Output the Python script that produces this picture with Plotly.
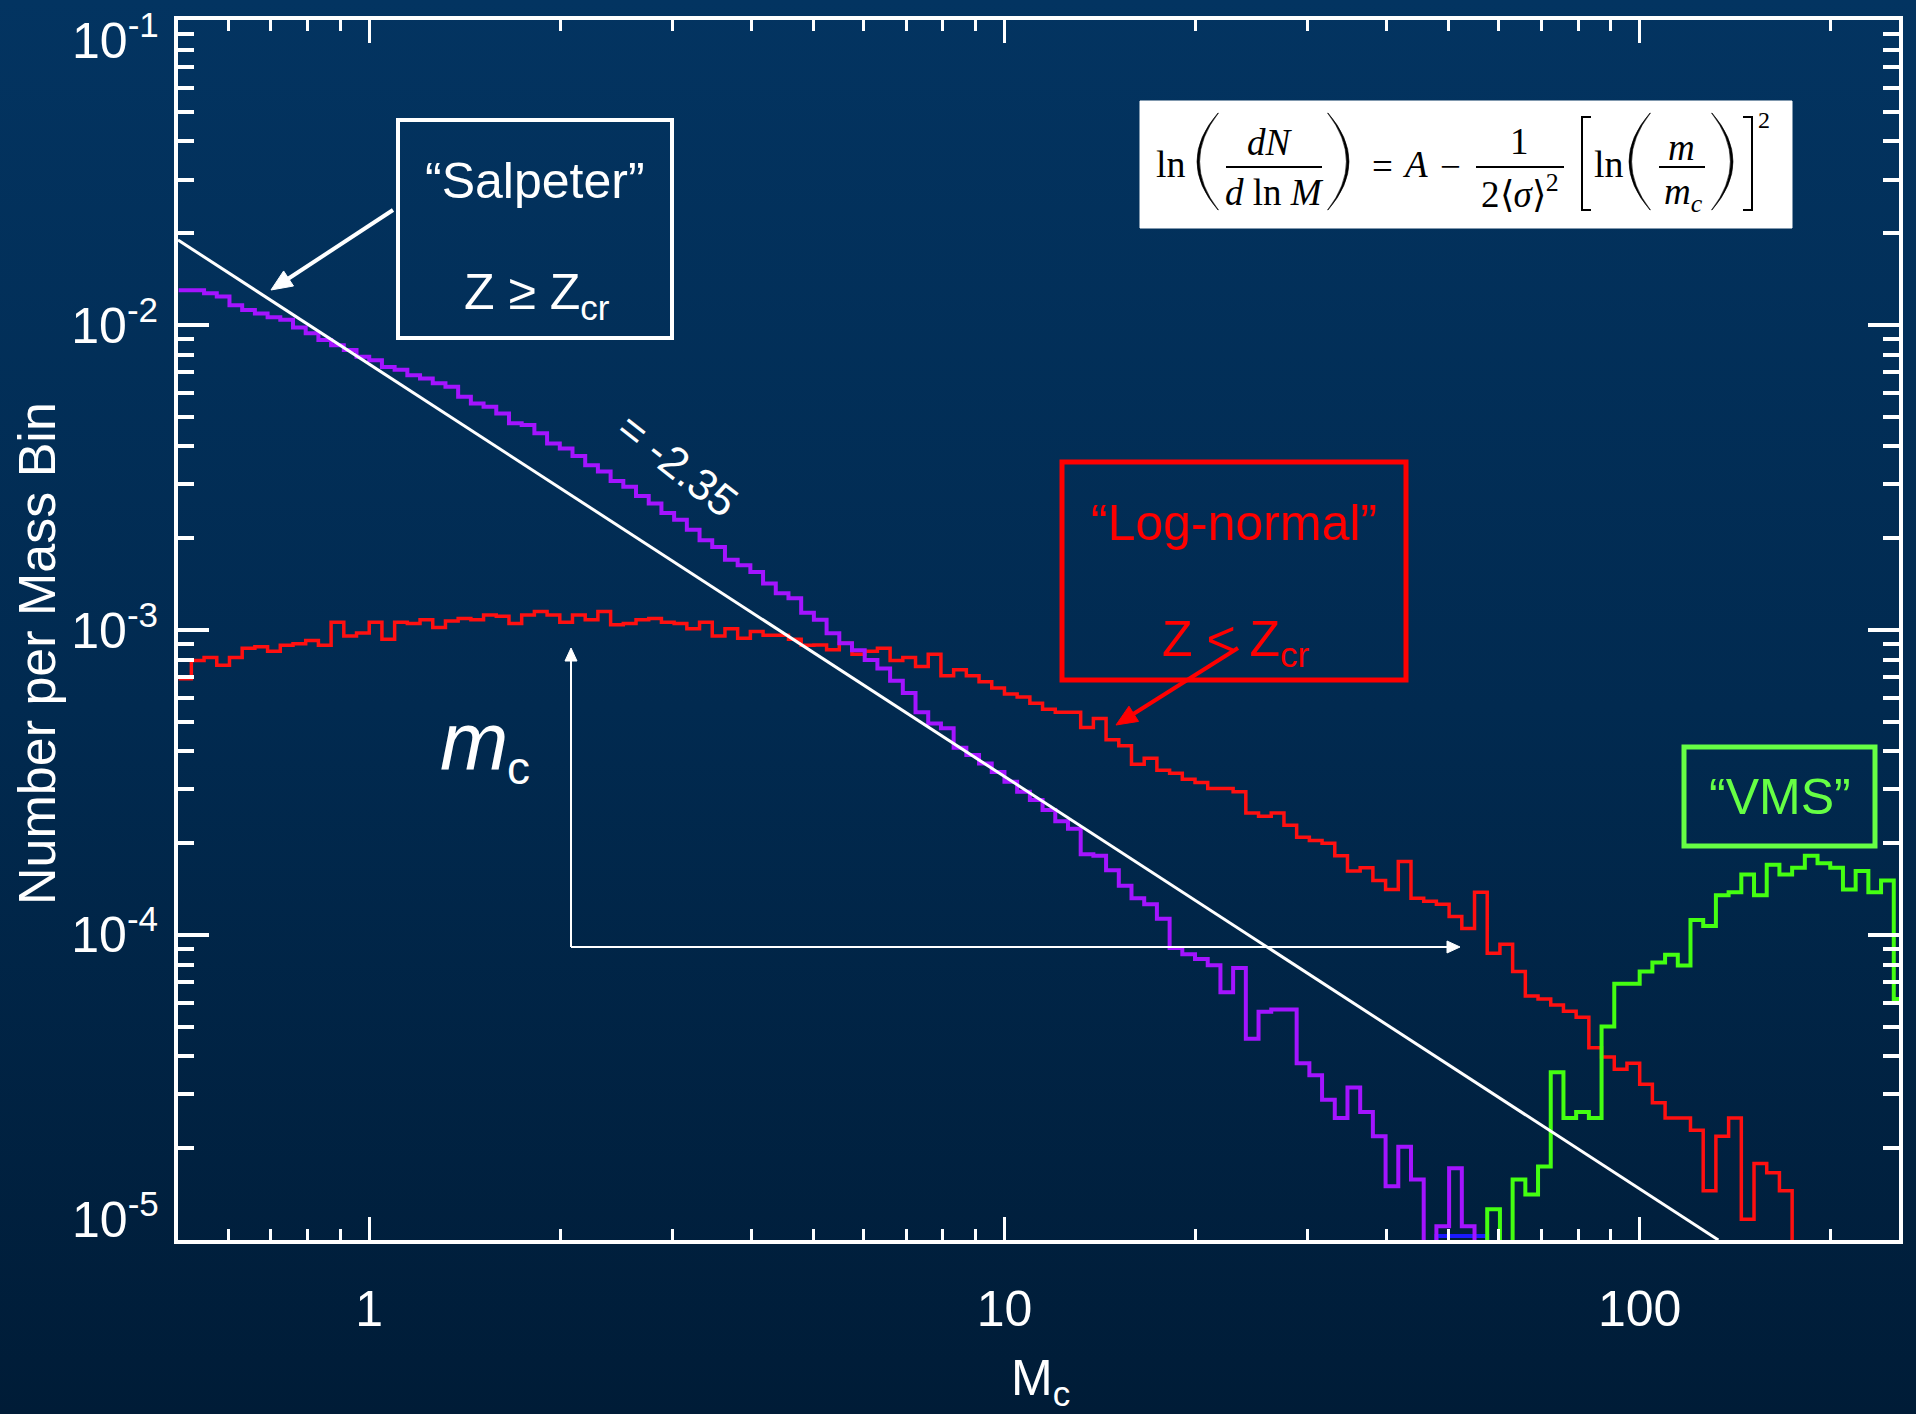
import base64
import math
import numpy as np
import plotly.graph_objects as go

# ---------------------------------------------------------------------------
# Mass bins: 0.02 dex wide in log10(M), first edge at log10(M) = -0.30
# ---------------------------------------------------------------------------
LOG_M_START = -0.30
BIN_WIDTH_DEX = 0.02
N_BINS = 136
mass_edges = 10.0 ** (LOG_M_START + BIN_WIDTH_DEX * np.arange(N_BINS + 1))

# Number per mass bin (0 = empty bin)
# Z >= Z_cr run ("Salpeter"-like)
n_salpeter = [
    1.30e-2, 1.30e-2, 1.27e-2, 1.24e-2, 1.16e-2, 1.12e-2, 1.09e-2, 1.06e-2, 1.04e-2, 9.82e-3,
    9.40e-3, 8.93e-3, 8.59e-3, 8.28e-3, 7.87e-3, 7.67e-3, 7.29e-3, 7.13e-3, 6.84e-3, 6.68e-3,
    6.44e-3, 6.28e-3, 5.82e-3, 5.53e-3, 5.40e-3, 5.13e-3, 4.76e-3, 4.70e-3, 4.42e-3, 4.09e-3,
    3.94e-3, 3.72e-3, 3.47e-3, 3.31e-3, 3.08e-3, 2.95e-3, 2.75e-3, 2.60e-3, 2.42e-3, 2.30e-3,
    2.13e-3, 1.97e-3, 1.87e-3, 1.70e-3, 1.63e-3, 1.55e-3, 1.42e-3, 1.32e-3, 1.27e-3, 1.14e-3,
    1.08e-3, 9.75e-4, 9.04e-4, 8.59e-4, 7.98e-4, 7.48e-4, 6.82e-4, 6.22e-4, 5.37e-4, 4.94e-4,
    4.76e-4, 4.11e-4, 3.89e-4, 3.65e-4, 3.42e-4, 3.18e-4, 2.95e-4, 2.77e-4, 2.57e-4, 2.36e-4,
    2.23e-4, 1.84e-4, 1.82e-4, 1.63e-4, 1.45e-4, 1.32e-4, 1.26e-4, 1.13e-4, 9.06e-5, 8.65e-5,
    8.34e-5, 7.96e-5, 6.49e-5, 7.80e-5, 4.57e-5, 5.60e-5, 5.70e-5, 5.70e-5, 3.80e-5, 3.47e-5,
    2.88e-5, 2.51e-5, 3.16e-5, 2.63e-5, 2.19e-5, 1.50e-5, 2.02e-5, 1.58e-5, 0, 1.11e-5,
    1.72e-5, 1.11e-5, 0, 0, 0, 0, 0, 0, 0, 0,
    0, 0, 0, 0, 0, 0, 0, 0, 0, 0,
    0, 0, 0, 0, 0, 0, 0, 0, 0, 0,
    0, 0, 0, 0, 0, 0,
]

# Z < Z_cr run ("Log-normal")
n_lognormal = [
    6.92e-4, 7.94e-4, 8.13e-4, 7.67e-4, 8.13e-4, 8.71e-4, 8.81e-4, 8.51e-4, 8.91e-4, 9.02e-4,
    9.23e-4, 8.91e-4, 1.06e-3, 9.55e-4, 9.77e-4, 1.06e-3, 9.33e-4, 1.06e-3, 1.05e-3, 1.08e-3,
    1.02e-3, 1.07e-3, 1.09e-3, 1.08e-3, 1.12e-3, 1.11e-3, 1.05e-3, 1.12e-3, 1.15e-3, 1.12e-3,
    1.06e-3, 1.12e-3, 1.08e-3, 1.15e-3, 1.04e-3, 1.05e-3, 1.08e-3, 1.09e-3, 1.06e-3, 1.05e-3,
    1.01e-3, 1.06e-3, 9.55e-4, 1.01e-3, 9.40e-4, 9.89e-4, 9.62e-4, 9.62e-4, 9.33e-4, 8.91e-4,
    8.93e-4, 8.61e-4, 9.04e-4, 8.32e-4, 8.51e-4, 8.71e-4, 7.94e-4, 8.13e-4, 7.59e-4, 8.32e-4,
    7.08e-4, 7.41e-4, 7.08e-4, 6.76e-4, 6.46e-4, 6.17e-4, 6.03e-4, 5.75e-4, 5.50e-4, 5.37e-4,
    5.37e-4, 4.79e-4, 5.13e-4, 4.37e-4, 4.17e-4, 3.63e-4, 3.80e-4, 3.47e-4, 3.39e-4, 3.24e-4,
    3.16e-4, 3.02e-4, 3.02e-4, 2.95e-4, 2.51e-4, 2.45e-4, 2.51e-4, 2.29e-4, 2.09e-4, 2.04e-4,
    2.00e-4, 1.82e-4, 1.62e-4, 1.66e-4, 1.51e-4, 1.41e-4, 1.74e-4, 1.32e-4, 1.29e-4, 1.26e-4,
    1.15e-4, 1.05e-4, 1.38e-4, 8.71e-5, 9.33e-5, 7.59e-5, 6.31e-5, 6.17e-5, 5.89e-5, 5.62e-5,
    5.37e-5, 4.27e-5, 3.98e-5, 3.63e-5, 3.80e-5, 3.24e-5, 2.82e-5, 2.51e-5, 2.51e-5, 2.29e-5,
    1.45e-5, 2.19e-5, 2.51e-5, 1.17e-5, 1.78e-5, 1.66e-5, 1.45e-5, 0, 0, 0,
    0, 0, 0, 0, 0, 0,
]

# Very massive stars ("VMS")
n_vms = [
    0, 0, 0, 0, 0, 0, 0, 0, 0, 0,
    0, 0, 0, 0, 0, 0, 0, 0, 0, 0,
    0, 0, 0, 0, 0, 0, 0, 0, 0, 0,
    0, 0, 0, 0, 0, 0, 0, 0, 0, 0,
    0, 0, 0, 0, 0, 0, 0, 0, 0, 0,
    0, 0, 0, 0, 0, 0, 0, 0, 0, 0,
    0, 0, 0, 0, 0, 0, 0, 0, 0, 0,
    0, 0, 0, 0, 0, 0, 0, 0, 0, 0,
    0, 0, 0, 0, 0, 0, 0, 0, 0, 0,
    0, 0, 0, 0, 0, 0, 0, 0, 0, 0,
    0, 0, 0, 1.26e-5, 0, 1.58e-5, 1.41e-5, 1.74e-5, 3.55e-5, 2.51e-5,
    2.63e-5, 2.51e-5, 5.01e-5, 6.92e-5, 6.92e-5, 7.59e-5, 8.13e-5, 8.61e-5, 7.94e-5, 1.12e-4,
    1.07e-4, 1.35e-4, 1.38e-4, 1.58e-4, 1.35e-4, 1.70e-4, 1.58e-4, 1.66e-4, 1.82e-4, 1.72e-4,
    1.66e-4, 1.41e-4, 1.62e-4, 1.38e-4, 1.51e-4, 6.17e-5,
]

# Low-count run that only just reaches the bottom of the axis
n_floor_run = [0] * 99 + [1.03e-5, 1.03e-5, 1.03e-5, 1.03e-5] + [0] * 33

# Salpeter power law (slope -2.35 in dN/dM)
salpeter_mass = [0.5, 133.0]
salpeter_number = [1.9e-2, 1.0e-5]

# Axis ticks (labels at the two ends of the y range are placed separately)
tick_masses = [1, 10, 100]
tick_mass_labels = ["1", "10", "100"]
tick_numbers = [1e-4, 1e-3, 1e-2]
tick_number_labels = ["10<sup>-4</sup>", "10<sup>-3</sup>", "10<sup>-2</sup>"]
end_number_labels = ["10<sup>-5</sup>", "10<sup>-1</sup>"]

# ---------------------------------------------------------------------------
# Figure geometry and styling
# ---------------------------------------------------------------------------
FIG_W, FIG_H = 1916, 1414
M_L, M_R, M_T, M_B = 178, 17, 20, 174
PLOT_W = FIG_W - M_L - M_R
PLOT_H = FIG_H - M_T - M_B
FLOOR = 1e-9  # empty bins drop below the axis and get clipped

SANS = "Liberation Sans, Arial, Helvetica, sans-serif"
SERIF = "Liberation Serif, Times New Roman, serif"
PURPLE = "#a414ff"
RED = "#ff1010"
GREEN = "#44ff11"
GREEN_BOX = "#66ff44"
BLUE = "#1a1aff"
TICK_SIZE = 50


def px_x(x):
    return (x - M_L) / PLOT_W


def px_y(y):
    return (M_T + PLOT_H - y) / PLOT_H


def step_xy(values):
    y = [v if v > 0 else FLOOR for v in values]
    return list(mass_edges), y + [y[-1]]


fig = go.Figure()

for vals, color, width in [
    (n_floor_run, BLUE, 4),
    (n_lognormal, RED, 3.5),
    (n_vms, GREEN, 4),
    (n_salpeter, PURPLE, 4),
]:
    x, y = step_xy(vals)
    fig.add_trace(go.Scatter(x=x, y=y, mode="lines", line=dict(color=color, width=width, shape="hv"),
                             hoverinfo="skip", showlegend=False))

fig.add_trace(go.Scatter(x=salpeter_mass, y=salpeter_number, mode="lines",
                         line=dict(color="white", width=3), hoverinfo="skip", showlegend=False))

# ---------------------------------------------------------------------------
# Background gradient
# ---------------------------------------------------------------------------
svg = (
    '<svg xmlns="http://www.w3.org/2000/svg" width="10" height="100" viewBox="0 0 10 100" '
    'preserveAspectRatio="none"><defs><linearGradient id="g" x1="0" y1="0" x2="0" y2="1">'
    '<stop offset="0" stop-color="#033461"/><stop offset="0.5" stop-color="#012a50"/>'
    '<stop offset="1" stop-color="#001c37"/></linearGradient></defs>'
    '<rect width="10" height="100" fill="url(#g)"/></svg>'
)
bg_src = "data:image/svg+xml;base64," + base64.b64encode(svg.encode()).decode()

# ---------------------------------------------------------------------------
# Shapes: boxes, equation panel, delimiters, arrows
# ---------------------------------------------------------------------------
shapes = []


def pt(x, y):
    return f"{px_x(x):.6f},{px_y(y):.6f}"


def rect(x0, y0, x1, y1, line_color, width, fill="rgba(0,0,0,0)"):
    shapes.append(dict(type="rect", xref="paper", yref="paper",
                       x0=px_x(x0), x1=px_x(x1), y0=px_y(y1), y1=px_y(y0),
                       line=dict(color=line_color, width=width), fillcolor=fill, layer="above"))


def seg(x0, y0, x1, y1, color="black", width=2):
    shapes.append(dict(type="line", xref="paper", yref="paper",
                       x0=px_x(x0), x1=px_x(x1), y0=px_y(y0), y1=px_y(y1),
                       line=dict(color=color, width=width), layer="above"))


def arrow(x_head, y_head, x_tail, y_tail, color, width, head_len, head_half):
    dx, dy = x_head - x_tail, y_head - y_tail
    n = math.hypot(dx, dy)
    ux, uy = dx / n, dy / n
    bx, by = x_head - head_len * ux, y_head - head_len * uy
    seg(x_tail, y_tail, bx + 0.5 * ux, by + 0.5 * uy, color, width)
    path = (f"M {pt(x_head, y_head)} L {pt(bx - head_half * uy, by + head_half * ux)} "
            f"L {pt(bx + head_half * uy, by - head_half * ux)} Z")
    shapes.append(dict(type="path", xref="paper", yref="paper", path=path,
                       fillcolor=color, line=dict(color=color, width=1), layer="above"))


def paren(x_end, x_belly, y_top, y_bot, thick=2.6):
    # crescent-shaped delimiter: ends at x_end, bulges out to x_belly
    ym = 0.5 * (y_top + y_bot)
    d = 1 if x_end > x_belly else -1
    c_out = 2 * x_belly - x_end
    x_end_in = x_end + 0.4 * d
    c_in = 2 * (x_belly + thick * d) - x_end_in
    path = (f"M {pt(x_end, y_top)} Q {pt(c_out, ym)} {pt(x_end, y_bot)} "
            f"L {pt(x_end_in, y_bot)} Q {pt(c_in, ym)} {pt(x_end_in, y_top)} Z")
    shapes.append(dict(type="path", xref="paper", yref="paper", path=path,
                       fillcolor="black", line=dict(color="black", width=0.6), layer="above"))


def bracket(x_spine, x_tip, y_top, y_bot):
    path = f"M {pt(x_tip, y_top)} L {pt(x_spine, y_top)} L {pt(x_spine, y_bot)} L {pt(x_tip, y_bot)}"
    shapes.append(dict(type="path", xref="paper", yref="paper", path=path,
                       line=dict(color="black", width=2), layer="above"))


# equation panel
rect(1140, 101, 1792, 228, "white", 1, fill="white")
paren(1218, 1197, 113, 210)
paren(1328, 1349, 113, 210)
paren(1650, 1629, 113, 210)
paren(1712, 1733, 113, 210)
bracket(1582, 1591, 117, 210)
bracket(1752, 1743, 117, 210)
seg(1226, 167, 1322, 167)
seg(1476, 167, 1564, 167)
seg(1659, 167, 1705, 167)

# labelled boxes
rect(398, 120, 672, 338, "white", 4)
rect(1062, 462, 1406, 680, "#ff0000", 5)
rect(1684, 747, 1875, 846, GREEN_BOX, 5)

# pointers from the boxes to the curves
arrow(271, 290, 393, 210, "white", 4, 21, 9)
arrow(1116, 725, 1238, 648, "#ff0000", 4, 21, 9)

# characteristic-mass marker
arrow(571, 648, 571, 947, "white", 2, 13, 6)
arrow(1460, 947, 571, 947, "white", 2, 13, 6)

# ---------------------------------------------------------------------------
# Text
# ---------------------------------------------------------------------------
annotations = []


def label(text, x, y, size, color="white", family=SANS, angle=0, xanchor="center"):
    annotations.append(dict(text=text, x=px_x(x), y=px_y(y), xref="paper", yref="paper",
                            showarrow=False, textangle=angle, xanchor=xanchor, yanchor="middle",
                            font=dict(size=size, color=color, family=family)))


# y labels at the ends of the range, pulled inside the figure
label(end_number_labels[0], 161, 1216, TICK_SIZE, xanchor="right")
label(end_number_labels[1], 161, 37, TICK_SIZE, xanchor="right")

# axis titles
label("Number per Mass Bin", 37, 654, 52, angle=-90)
label("M<sub>c</sub>", 1040, 1382, 50)

# Salpeter box
label("\u201cSalpeter\u201d", 535, 181, 50)
label("Z \u2265 Z<sub>cr</sub>", 537, 296, 50)

# slope label along the power law
label("= -2.35", 678, 464, 44, angle=38)

# log-normal box
label("\u201cLog-normal\u201d", 1234, 523, 50, color="#ff0000")
label("Z &lt; Z<sub>cr</sub>", 1236, 642, 50, color="#ff0000")

# VMS box
label("\u201cVMS\u201d", 1780, 797, 50, color=GREEN_BOX)

# characteristic mass
label("<i>m</i>", 474, 740, 82)
label("c", 518, 768, 46)

# equation text
EQ = 37
label("ln", 1171, 164, EQ + 1, color="black", family=SERIF)
label("<i>dN</i>", 1270, 143, EQ, color="black", family=SERIF)
label("<i>d</i> ln <i>M</i>", 1274, 192, EQ, color="black", family=SERIF)
label("=", 1382, 167, EQ, color="black", family=SERIF)
label("<i>A</i>", 1415, 165, EQ, color="black", family=SERIF)
label("\u2212", 1450, 167, EQ, color="black", family=SERIF)
label("1", 1519, 142, EQ, color="black", family=SERIF)
label("2\u27e8<i>\u03c3</i>\u27e9<sup>2</sup>", 1520, 191, EQ, color="black", family=SERIF)
label("ln", 1609, 164, EQ + 1, color="black", family=SERIF)
label("<i>m</i>", 1681, 147, EQ, color="black", family=SERIF)
label("<i>m</i><sub><i>c</i></sub>", 1683, 194, EQ, color="black", family=SERIF)
label("2", 1764, 120, 24, color="black", family=SERIF)

# ---------------------------------------------------------------------------
# Axes
# ---------------------------------------------------------------------------
axis_common = dict(
    type="log", showgrid=False, zeroline=False, showline=True, linecolor="white",
    linewidth=4, mirror="ticks", ticks="inside", tickcolor="white",
    tickfont=dict(size=TICK_SIZE, color="white", family=SANS),
)

fig.update_xaxes(
    **axis_common,
    range=[np.log10(0.5), np.log10(256)],
    tickmode="array", tickvals=tick_masses, ticktext=tick_mass_labels,
    ticklen=23, tickwidth=3, ticklabelstandoff=22,
    minor=dict(ticks="inside", ticklen=11, tickwidth=3, tickcolor="white", dtick="D1", showgrid=False),
)
fig.update_yaxes(
    **axis_common,
    range=[-5.0001, -0.9999],
    tickmode="array", tickvals=tick_numbers, ticktext=tick_number_labels,
    ticklen=31, tickwidth=3.5, ticklabelstandoff=6,
    minor=dict(ticks="inside", ticklen=16, tickwidth=3.5, tickcolor="white", dtick="D1", showgrid=False),
)

fig.update_layout(
    width=FIG_W, height=FIG_H, autosize=False,
    margin=dict(l=M_L, r=M_R, t=M_T, b=M_B),
    paper_bgcolor="#012a50", plot_bgcolor="rgba(0,0,0,0)",
    images=[dict(source=bg_src, xref="paper", yref="paper",
                 x=px_x(0), y=px_y(0), sizex=FIG_W / PLOT_W, sizey=FIG_H / PLOT_H,
                 xanchor="left", yanchor="top", sizing="stretch", layer="below")],
    shapes=shapes, annotations=annotations, showlegend=False,
)

fig.write_html("out.html")
